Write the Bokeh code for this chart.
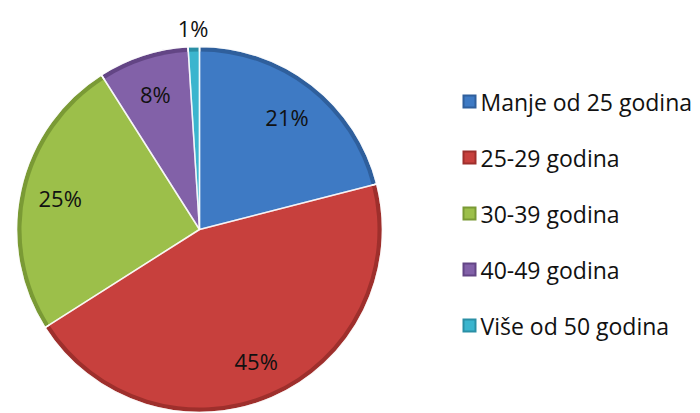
import numpy as np
from bokeh.plotting import figure
from bokeh.models import Range1d, ColumnDataSource
from bokeh.core.properties import value
from bokeh.embed import file_html
from bokeh.resources import INLINE

categories = ["Manje od 25 godina", "25-29 godina", "30-39 godina", "40-49 godina", "Više od 50 godina"]
values = [21, 45, 25, 8, 1]
labels = ["21%", "45%", "25%", "8%", "1%"]
colors = ["#3E7AC4", "#C7403D", "#9CBF4A", "#8261A8", "#3BB5CE"]
dark = ["#2F5F9C", "#9E2F2C", "#7A9A35", "#634585", "#2A8FA5"]

W, H = 700, 413
cx, cy, r = 199, H - 229, 183

p = figure(width=W, height=H, output_backend="svg", toolbar_location=None,
           x_range=Range1d(0, W), y_range=Range1d(0, H), min_border=0,
           outline_line_color=None)
p.axis.visible = False
p.grid.visible = False
p.background_fill_color = "white"
p.border_fill_color = "white"

vals = np.array(values, dtype=float)
frac = vals / vals.sum()
cum = np.concatenate([[0], np.cumsum(frac)])
start = np.pi / 2 - 2 * np.pi * cum[:-1]
end = np.pi / 2 - 2 * np.pi * cum[1:]
mid = (start + end) / 2

src = ColumnDataSource(dict(start=start, end=end, color=colors, dark=dark))
p.wedge(x=cx, y=cy, radius=r, start_angle="start", end_angle="end", direction="clock",
        fill_color="dark", line_color="white", line_width=1.5, line_alpha=0.8, source=src)
p.wedge(x=cx, y=cy, radius=r - 5, start_angle="start", end_angle="end", direction="clock",
        fill_color="color", line_color=None, source=src)
p.wedge(x=cx, y=cy, radius=r, start_angle="start", end_angle="end", direction="clock",
        fill_color=None, line_color="white", line_width=1.5, line_alpha=0.7, source=src)

# labels
rad = np.where(frac < 0.03, 1.1, 0.78)
lx = cx + rad * r * np.cos(mid)
ly = cy + rad * r * np.sin(mid)
p.text(x=lx, y=ly, text=labels, text_align="center", text_baseline="middle",
       text_font=value("Open Sans"), text_font_size="22px", text_color="#111111")

# legend
n = len(categories)
ly0 = H - 101
step = 56
leg_y = [ly0 - i * step for i in range(n)]
p.rect(x=[469] * n, y=leg_y, width=14, height=14, fill_color=dark, line_color=None)
p.rect(x=[469] * n, y=leg_y, width=10, height=10, fill_color=colors, line_color=None)
p.text(x=[480] * n, y=leg_y, text=categories, text_align="left", text_baseline="middle",
       text_font=value("Open Sans"), text_font_size="23px", text_color="#111111")

open("out.html", "w").write(file_html(p, INLINE))
